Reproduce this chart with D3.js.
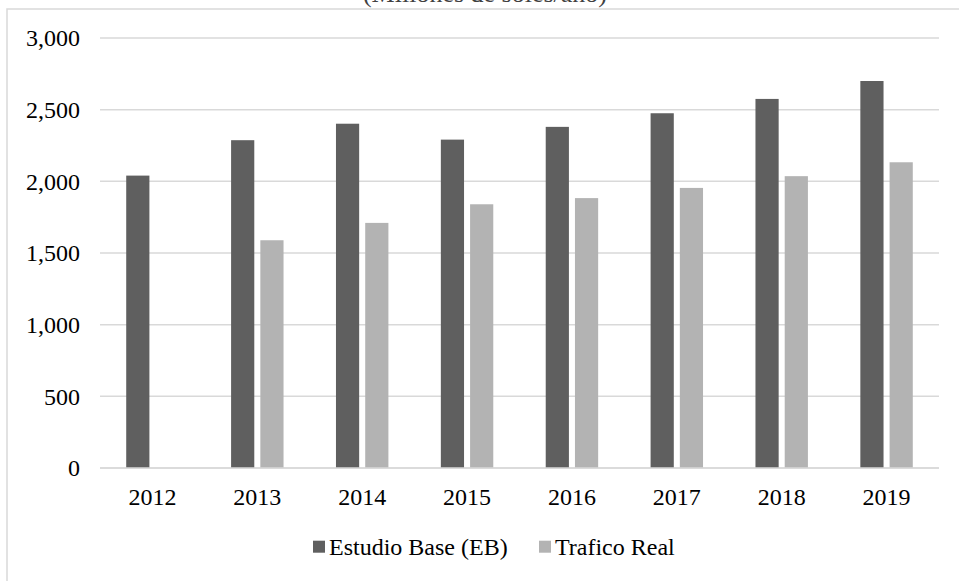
<!DOCTYPE html>
<html>
<head>
<meta charset="utf-8">
<script src="https://cdn.jsdelivr.net/npm/d3@7"></script>
<style>
  html, body { margin: 0; padding: 0; background: #ffffff; overflow: hidden; }
  svg { display: block; }
</style>
</head>
<body>
<svg id="chart" width="959" height="581"></svg>
<script>
// Yearly figures for the base study and the observed traffic
const years = ["2012", "2013", "2014", "2015", "2016", "2017", "2018", "2019"];
const estudioBase = [2040, 2287, 2402, 2291, 2380, 2475, 2575, 2700];
const traficoReal = [null, 1589, 1710, 1840, 1883, 1954, 2036, 2133];
const seriesNames = ["Estudio Base (EB)", "Trafico Real"];
const seriesColors = ["#5f5f5f", "#b3b3b3"];
const yTicks = [0, 500, 1000, 1500, 2000, 2500, 3000];
const titleText = "(Millones de soles/año)";

const svg = d3.select("#chart");
const W = 959, H = 581;
const font = "'Liberation Serif', 'Times New Roman', serif";
const fontSize = 24;

// Outer frame of the chart area (runs past the right and bottom edges)
svg.append("rect")
  .attr("x", 7).attr("y", 9)
  .attr("width", W + 20).attr("height", H + 20)
  .attr("fill", "#ffffff")
  .attr("stroke", "#d9d9d9").attr("stroke-width", 1.5);

// Title, sitting above the frame
svg.append("text")
  .attr("x", 485).attr("y", 2)
  .attr("text-anchor", "middle")
  .attr("font-family", font).attr("font-size", 26)
  .attr("fill", "#404040")
  .text(titleText);

const plot = { left: 100, right: 939, top: 38, bottom: 468 };

const x0 = d3.scaleBand()
  .domain(years)
  .range([plot.left, plot.right])
  .paddingInner(0.5).paddingOuter(0.25);

const x1 = d3.scaleBand()
  .domain([0, 1])
  .range([0, x0.bandwidth()])
  .paddingInner(0.207);

const y = d3.scaleLinear()
  .domain([0, 3000])
  .range([plot.bottom, plot.top]);

// Horizontal gridlines
svg.append("g")
  .selectAll("line")
  .data(yTicks)
  .join("line")
  .attr("x1", plot.left).attr("x2", plot.right)
  .attr("y1", d => y(d)).attr("y2", d => y(d))
  .attr("stroke", "#d9d9d9").attr("stroke-width", 1.5);

// Y axis labels
const yAxis = d3.axisLeft(y)
  .tickValues(yTicks)
  .tickFormat(d3.format(","))
  .tickSize(0).tickPadding(20);
const gy = svg.append("g").attr("transform", `translate(${plot.left},0)`).call(yAxis);
gy.select(".domain").remove();
gy.selectAll("text")
  .attr("font-family", font).attr("font-size", fontSize).attr("fill", "#000");

// Bars
const seriesData = [estudioBase, traficoReal];
const groups = svg.append("g")
  .selectAll("g")
  .data(years)
  .join("g")
  .attr("transform", d => `translate(${x0(d)},0)`);

groups.selectAll("rect")
  .data((d, i) => seriesData.map((s, k) => ({ k, v: s[i] })).filter(o => o.v != null))
  .join("rect")
  .attr("x", d => x1(d.k))
  .attr("width", x1.bandwidth())
  .attr("y", d => y(d.v))
  .attr("height", d => y(0) - y(d.v))
  .attr("fill", d => seriesColors[d.k]);

// Baseline redrawn on top of bars
svg.append("line")
  .attr("x1", plot.left).attr("x2", plot.right)
  .attr("y1", y(0)).attr("y2", y(0))
  .attr("stroke", "#d9d9d9").attr("stroke-width", 1.5);

// X axis labels
const xAxis = d3.axisBottom(x0).tickSize(0).tickPadding(20);
const gx = svg.append("g").attr("transform", `translate(0,${plot.bottom})`).call(xAxis);
gx.select(".domain").remove();
gx.selectAll("text")
  .attr("font-family", font).attr("font-size", fontSize).attr("fill", "#000");

// Legend
const legend = svg.append("g").attr("transform", "translate(313,546.7)");
const legendX = [0, 226];
seriesNames.forEach((name, k) => {
  const g = legend.append("g").attr("transform", `translate(${legendX[k]},0)`);
  g.append("rect")
    .attr("x", 0).attr("y", -6)
    .attr("width", 12).attr("height", 12)
    .attr("fill", seriesColors[k]);
  g.append("text")
    .attr("x", 16).attr("y", 0)
    .attr("dy", "0.35em")
    .attr("font-family", font).attr("font-size", fontSize).attr("fill", "#000")
    .text(name);
});
</script>
</body>
</html>
